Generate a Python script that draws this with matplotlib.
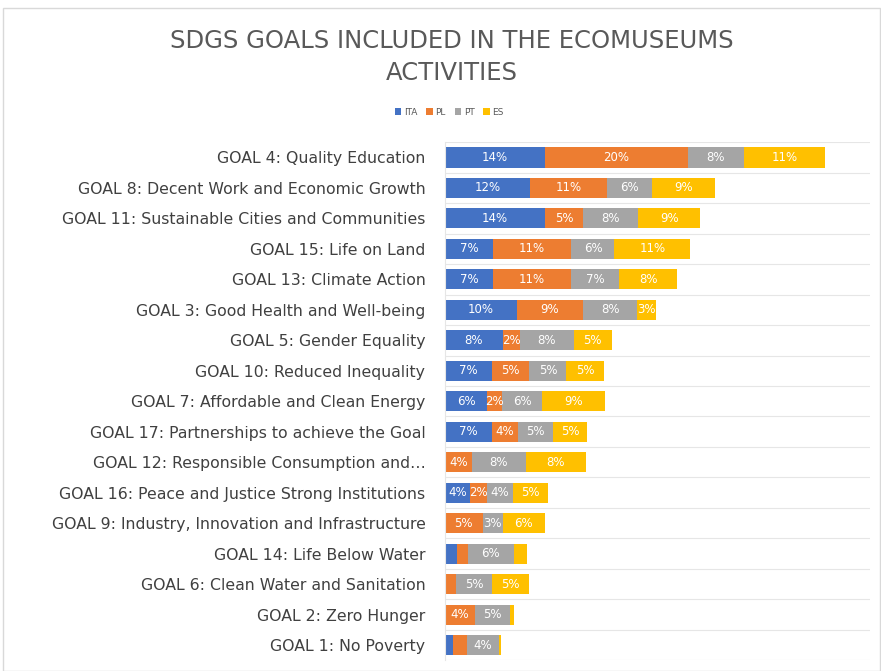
import numpy as np
import matplotlib
matplotlib.use("Agg")
import matplotlib.pyplot as plt
from matplotlib.patches import Rectangle

# categories, top to bottom as in the chart
goals = [
    "GOAL 4: Quality Education",
    "GOAL 8: Decent Work and Economic Growth",
    "GOAL 11: Sustainable Cities and Communities",
    "GOAL 15: Life on Land",
    "GOAL 13: Climate Action",
    "GOAL 3: Good Health and Well-being",
    "GOAL 5: Gender Equality",
    "GOAL 10: Reduced Inequality",
    "GOAL 7: Affordable and Clean Energy",
    "GOAL 17: Partnerships to achieve the Goal",
    "GOAL 12: Responsible Consumption and\u2026",
    "GOAL 16: Peace and Justice Strong Institutions",
    "GOAL 9: Industry, Innovation and Infrastructure",
    "GOAL 14: Life Below Water",
    "GOAL 6: Clean Water and Sanitation",
    "GOAL 2: Zero Hunger",
    "GOAL 1: No Poverty",
]

ita = [14.0, 11.9, 14.0, 6.7, 6.7, 10.1, 8.1, 6.6, 5.9, 6.6, 0.0, 3.5, 0.0, 1.7, 0.0, 0.0, 1.1]
pl = [20.0, 10.8, 5.3, 11.0, 11.0, 9.2, 2.4, 5.2, 2.1, 3.6, 3.8, 2.4, 5.3, 1.5, 1.6, 4.2, 2.0]
pt = [7.8, 6.3, 7.7, 6.0, 6.7, 7.6, 7.5, 5.2, 5.6, 4.9, 7.5, 3.6, 2.8, 6.4, 5.0, 4.9, 4.4]
es = [11.3, 8.7, 8.7, 10.6, 8.1, 2.6, 5.3, 5.3, 8.8, 4.8, 8.4, 4.9, 5.9, 1.9, 5.2, 0.6, 0.3]

series = [("ITA", ita, "#4472C4"), ("PL", pl, "#ED7D31"),
          ("PT", pt, "#A5A5A5"), ("ES", es, "#FFC000")]

fig = plt.figure(figsize=(8.81, 6.71), dpi=100)
# light chart border
fig.patches.append(Rectangle((0.003, 0.0), 0.996, 0.988, transform=fig.transFigure,
                             fill=False, edgecolor="#D9D9D9", lw=1))
ax = fig.add_axes([0.505, 0.016, 0.483, 0.772])

y = np.arange(len(goals))
left = np.zeros(len(goals))
for name, vals, col in series:
    vals = np.array(vals)
    ax.barh(y, vals, left=left, height=0.66, color=col, label=name)
    for i, v in enumerate(vals):
        if v >= 2.05:
            ax.text(left[i] + v / 2, y[i], "%d%%" % round(v), ha="center", va="center",
                    color="white", fontsize=8.5)
    left += vals

# faint separators between categories
for k in range(len(goals) + 1):
    ax.axhline(k - 0.5, color="#E6E6E6", lw=0.8, zorder=0)

ax.set_ylim(len(goals) - 0.5, -0.5)
ax.set_xlim(0, 59.5)
ax.set_yticks(y)
ax.set_yticklabels(goals, fontsize=11.3, color="#404040")
ax.tick_params(axis="y", length=0, pad=14)
ax.set_xticks([])
for s in ["top", "right", "bottom"]:
    ax.spines[s].set_visible(False)
ax.spines["left"].set_color("#E6E6E6")

fig.text(0.513, 0.915, "SDGS GOALS INCLUDED IN THE ECOMUSEUMS\nACTIVITIES",
         ha="center", va="center", fontsize=17.5, color="#595959", linespacing=1.45)

fig.legend(loc="center", bbox_to_anchor=(0.51, 0.833), ncol=4, frameon=False,
           fontsize=6.5, handlelength=0.7, handleheight=0.7, columnspacing=1.0,
           handletextpad=0.3, labelcolor="#595959")

fig.savefig("out.png", dpi=100)
